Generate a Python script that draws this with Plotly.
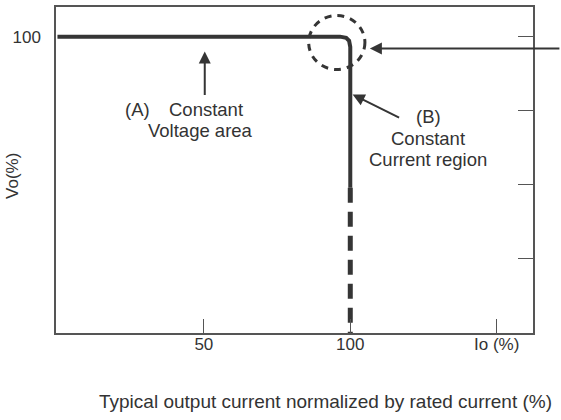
import plotly.graph_objects as go

# Data
curve_x = [0, 96.5, 98.6, 99.6, 100, 100]
curve_y = [100, 100, 99.6, 98.6, 96.5, 49]
dash_x = [100, 100]
dash_y = [49, 0]

x_tickvals = [50, 100, 150]
x_ticktext = ["50", "100", "Io (%)"]
y_tickvals = [100]
y_ticktext = ["100"]
y_right_ticks = [25, 50, 75, 100]

DARK = "#353535"
AXIS = "#555555"
FONT = "Liberation Sans, Arial, sans-serif"

fig = go.Figure()
fig.add_trace(go.Scatter(x=curve_x, y=curve_y, mode="lines",
                         line=dict(color=DARK, width=4), hoverinfo="skip",
                         showlegend=False))
fig.add_trace(go.Scatter(x=dash_x, y=dash_y, mode="lines",
                         line=dict(color=DARK, width=5, dash="15px,9px"),
                         hoverinfo="skip", showlegend=False))
# invisible trace for right axis
fig.add_trace(go.Scatter(x=[0], y=[0], yaxis="y2", mode="markers",
                         marker=dict(opacity=0), hoverinfo="skip", showlegend=False))

# dashed circle around the corner
fig.add_shape(type="circle", xref="x", yref="y", x0=85.8, x1=105, y0=88.9, y1=107.1,
              line=dict(color=DARK, width=3, dash="7px,6px"))

ann = []
# right arrow to the circle
ann.append(dict(x=106.7, y=96, xref="x", yref="y", text="", showarrow=True,
                ax=191, ay=0, arrowhead=2, arrowsize=1.2, arrowwidth=2, arrowcolor=DARK))
# (A) arrow
ann.append(dict(x=50.3, y=95, xref="x", yref="y", text="", showarrow=True,
                ax=0, ay=45, arrowhead=2, arrowsize=1.2, arrowwidth=2, arrowcolor=DARK))
# (B) arrow
ann.append(dict(x=100.8, y=80.5, xref="x", yref="y", text="", showarrow=True,
                ax=48, ay=24, arrowhead=2, arrowsize=1.2, arrowwidth=2, arrowcolor=DARK))

def px_text(text, px, py, size=18.5, family=FONT, angle=0):
    # position in paper coordinates from pixel positions
    X0, X1, Y0, Y1 = 56, 533, 5, 333
    return dict(x=(px - X0) / (X1 - X0), y=(Y1 - py) / (Y1 - Y0), xref="paper", yref="paper",
                text=text, showarrow=False, xanchor="center", yanchor="middle",
                textangle=angle, font=dict(family=family, size=size, color="#333333"))

ann.append(px_text("(A)", 137, 108))
ann.append(px_text("Constant", 206, 108))
ann.append(px_text("Voltage area", 200, 129))
ann.append(px_text("(B)", 428, 115))
ann.append(px_text("Constant", 428, 137))
ann.append(px_text("Current region", 428, 158))
ann.append(px_text("Vo(%)", 13, 175, size=17, angle=-90))
ann.append(px_text("Typical output current normalized by rated current (%)", 325, 402,
                   size=19))

fig.update_layout(
    width=561, height=420,
    margin=dict(l=56, r=28, t=5, b=87),
    paper_bgcolor="white", plot_bgcolor="white",
    annotations=ann,
    xaxis=dict(range=[-0.5, 162.4], tickvals=x_tickvals, ticktext=x_ticktext,
               ticks="inside", ticklen=14, tickcolor=AXIS, tickwidth=1.3,
               showgrid=False, zeroline=False, showline=True, linecolor=AXIS,
               linewidth=1.5, mirror=True, ticklabelstandoff=-5,
               tickfont=dict(family=FONT, size=17, color="#333333")),
    yaxis=dict(range=[0, 110], tickvals=y_tickvals, ticktext=y_ticktext,
               ticks="", showgrid=False, zeroline=False, showline=True,
               linecolor=AXIS, linewidth=1.5, mirror=True, ticklabelstandoff=10,
               tickfont=dict(family=FONT, size=17, color="#333333")),
    yaxis2=dict(range=[0, 110], overlaying="y", side="right", tickvals=y_right_ticks,
                ticks="inside", ticklen=15, tickcolor=AXIS, tickwidth=1.3,
                showticklabels=False, showgrid=False, zeroline=False, showline=False),
)

fig.write_html("out.html", config={"displayModeBar": False},
               post_script="document.body.style.margin='0';")
